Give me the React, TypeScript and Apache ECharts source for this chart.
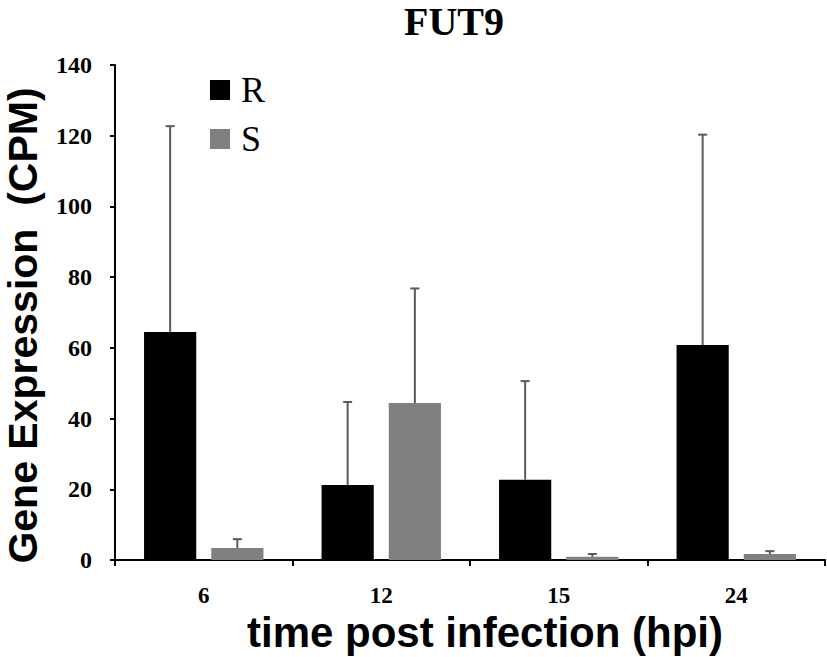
import React, { useEffect, useRef } from "react";
import * as echarts from "echarts";

const categories = ["6", "12", "15", "24"];
const seriesNames = ["R", "S"];
const valuesR = [64.5, 21.2, 22.7, 60.8];
const valuesS = [3.4, 44.4, 0.9, 1.7];
const errorsR = [58.2, 23.5, 27.9, 59.5];
const errorsS = [2.5, 32.4, 0.8, 0.8];
const yTicks = [0, 20, 40, 60, 80, 100, 120, 140];

const BAR_W_RATIO = 0.294;
const BAR_GAP_RATIO = 0.288;

export default function App() {
  const ref = useRef<HTMLDivElement>(null);
  useEffect(() => {
    if (!ref.current) return;
    const chart = echarts.init(ref.current, null, { renderer: "svg" });
    const errData: number[][] = [];
    valuesR.forEach((v, i) => errData.push([i, v, v + errorsR[i], 0]));
    valuesS.forEach((v, i) => errData.push([i, v, v + errorsS[i], 1]));
    const serif = "'Liberation Serif', 'Times New Roman', serif";
    const sans = "'Liberation Sans', Arial, sans-serif";
    chart.setOption({
      animation: false,
      backgroundColor: "#ffffff",
      title: {
        text: "FUT9",
        left: 404,
        top: 1,
        padding: 0,
        textStyle: { fontFamily: serif, fontWeight: "bold", fontSize: 40, color: "#000", lineHeight: 40 },
      },
      legend: {
        data: seriesNames,
        orient: "vertical",
        left: 205,
        top: 67,
        itemWidth: 20,
        itemHeight: 20,
        itemGap: 13,
        icon: "rect",
        textStyle: { fontFamily: serif, fontSize: 36, color: "#000", lineHeight: 36, padding: [0, 0, 0, 6] },
      },
      grid: { left: 115, right: 2, top: 65, bottom: 97, containLabel: false, outerBoundsMode: "none" },
      xAxis: {
        type: "category",
        data: categories,
        boundaryGap: true,
        axisLine: { lineStyle: { color: "#000", width: 2 } },
        axisTick: { show: true, alignWithLabel: false, length: 6, lineStyle: { color: "#000", width: 2 } },
        axisLabel: { fontFamily: serif, fontWeight: "bold", fontSize: 23, lineHeight: 20, color: "#000", margin: 25 },
        name: "time post infection (hpi)",
        nameLocation: "middle",
        nameGap: 54,
        nameMoveOverlap: false,
        nameTextStyle: { fontFamily: sans, fontWeight: "bold", fontSize: 42, lineHeight: 36, color: "#000", padding: [0, 0, 0, 30] },
      },
      yAxis: {
        type: "value",
        min: 0,
        max: yTicks[yTicks.length - 1],
        interval: yTicks[1] - yTicks[0],
        splitLine: { show: false },
        axisLine: { show: true, lineStyle: { color: "#000", width: 2 } },
        axisTick: { show: true, length: 5, lineStyle: { color: "#000", width: 2 } },
        axisLabel: { fontFamily: serif, fontWeight: "bold", fontSize: 24, color: "#000", margin: 23 },
        name: "Gene Expression  (CPM)",
        nameLocation: "middle",
        nameRotate: 90,
        nameGap: 72,
        nameMoveOverlap: false,
        nameTextStyle: { fontFamily: sans, fontWeight: "bold", fontSize: 41, lineHeight: 41, color: "#000", padding: [0, 26, 0, 0] },
      },
      series: [
        {
          name: seriesNames[0],
          type: "bar",
          data: valuesR,
          barWidth: (BAR_W_RATIO * 100).toFixed(1) + "%",
          barGap: (BAR_GAP_RATIO * 100).toFixed(1) + "%",
          itemStyle: { color: "#000000" },
        },
        {
          name: seriesNames[1],
          type: "bar",
          data: valuesS,
          barWidth: (BAR_W_RATIO * 100).toFixed(1) + "%",
          barGap: (BAR_GAP_RATIO * 100).toFixed(1) + "%",
          itemStyle: { color: "#808080" },
        },
        {
          type: "custom",
          name: "err",
          data: errData,
          z: 3,
          renderItem: (params: any, api: any) => {
            const cat = api.value(0);
            const low = api.coord([cat, api.value(1)]);
            const high = api.coord([cat, api.value(2)]);
            const cw = api.size([1, 0])[0];
            const bw = BAR_W_RATIO * cw;
            const off = (bw + BAR_GAP_RATIO * bw) / 2;
            const x = low[0] + (api.value(3) === 0 ? -off : off);
            const cap = 4.5;
            const style = { stroke: "#5a5a5a", lineWidth: 2 };
            return {
              type: "group",
              children: [
                { type: "line", shape: { x1: x, y1: low[1], x2: x, y2: high[1] }, style },
                { type: "line", shape: { x1: x - cap, y1: high[1], x2: x + cap, y2: high[1] }, style },
              ],
            };
          },
        },
      ],
    });
    return () => chart.dispose();
  }, []);
  return <div ref={ref} style={{ width: 827, height: 657, position: "absolute", left: 0, top: 0 }} />;
}
